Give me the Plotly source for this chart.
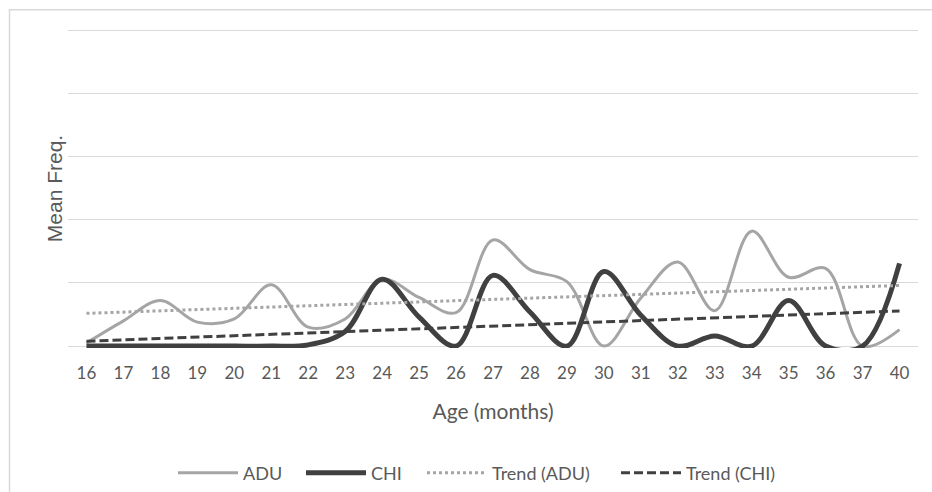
import numpy as np
import plotly.graph_objects as go

# Age categories (months) and mean frequency per group
ages = ["16", "17", "18", "19", "20", "21", "22", "23", "24", "25", "26", "27",
        "28", "29", "30", "31", "32", "33", "34", "35", "36", "37", "40"]
adu = [0.05, 0.40, 0.72, 0.38, 0.43, 0.97, 0.30, 0.43, 1.06, 0.77, 0.53, 1.68,
       1.21, 1.02, 0.00, 0.76, 1.33, 0.56, 1.82, 1.09, 1.23, 0.00, 0.26]
chi = [0.00, 0.00, 0.00, 0.00, 0.00, 0.00, 0.02, 0.23, 1.06, 0.46, 0.00, 1.12,
       0.54, 0.00, 1.18, 0.49, 0.00, 0.16, 0.00, 0.72, 0.00, 0.00, 1.31]
grid_values = [0, 1, 2, 3, 4, 5]

# Linear trendlines fitted over the category index (1..n)
idx = np.arange(1, len(ages) + 1)
adu_trend = np.polyval(np.polyfit(idx, adu, 1), idx)
chi_trend = np.polyval(np.polyfit(idx, chi, 1), idx)

W, H = 932, 492
UNIT = 63.2                      # pixels per gridline step
Y_MIN, Y_MAX = -0.03, 5.02       # curves overshooting below zero are clipped
L, R = 68, 14
T = 30 - (Y_MAX - 5) * UNIT
plot_h = (Y_MAX - Y_MIN) * UNIT
plot_w = W - L - R
B = H - T - plot_h

TEXT = "#595959"
LIGHT = "#a5a5a5"
DARK = "#404040"
BODY_FONT = "Lato"


def px_x(px):
    return (px - L) / plot_w


def px_y(py):
    return (T + plot_h - py) / plot_h


series = [
    dict(name="ADU", y=adu, color=LIGHT, width=3, dash="solid", spline=True, lx=180),
    dict(name="CHI", y=chi, color=DARK, width=5, dash="solid", spline=True, lx=308),
    dict(name="Trend (ADU)", y=adu_trend, color=LIGHT, width=3, dash="3px,3px", spline=False, lx=429),
    dict(name="Trend (CHI)", y=chi_trend, color=DARK, width=3, dash="9px,4px", spline=False, lx=623),
]

fig = go.Figure()
legends = {}
for i, s in enumerate(series):
    key = "legend" if i == 0 else f"legend{i + 1}"
    line = dict(color=s["color"], width=s["width"], dash=s["dash"])
    if s["spline"]:
        line.update(shape="spline", smoothing=1)
    fig.add_trace(go.Scatter(x=ages, y=s["y"], name=s["name"], mode="lines",
                             line=line, legend=key))
    legends[key] = dict(
        orientation="h", x=px_x(s["lx"] - 7), xanchor="left",
        y=px_y(473), yanchor="middle",
        font=dict(family=BODY_FONT, size=18, color=TEXT),
        itemwidth=60, bgcolor="rgba(0,0,0,0)",
    )

# Outer chart frame
fig.add_shape(
    type="rect", xref="paper", yref="paper",
    x0=px_x(9.5), x1=px_x(945), y0=px_y(505), y1=px_y(9.5),
    line=dict(color="#d9d9d9", width=1.5), fillcolor="rgba(0,0,0,0)",
    layer="below",
)

# Vertical axis title, centred on the 0..5 band
fig.add_annotation(
    text="Mean Freq.", textangle=-90, xref="paper", yref="paper",
    x=px_x(54), y=px_y(189), xanchor="center", yanchor="middle",
    showarrow=False, font=dict(family="Liberation Sans", size=21, color=TEXT),
)

fig.update_layout(
    width=W, height=H,
    margin=dict(l=L, r=R, t=T, b=B, pad=0, autoexpand=False),
    paper_bgcolor="white", plot_bgcolor="white",
    showlegend=True,
    **legends,
    xaxis=dict(
        type="category", range=[-0.5, len(ages) - 0.5],
        showgrid=False, zeroline=False, showline=False, ticks="",
        ticklabelstandoff=13,
        tickfont=dict(family=BODY_FONT, size=17, color=TEXT),
        title=dict(text="Age (months)", standoff=22,
                   font=dict(family=BODY_FONT, size=21, color=TEXT)),
    ),
    yaxis=dict(
        range=[Y_MIN, Y_MAX], tickvals=grid_values, showticklabels=False,
        showgrid=True, gridcolor="#d9d9d9", gridwidth=1.3,
        zeroline=False, showline=False, ticks="",
    ),
)

fig.write_html("out.html")
